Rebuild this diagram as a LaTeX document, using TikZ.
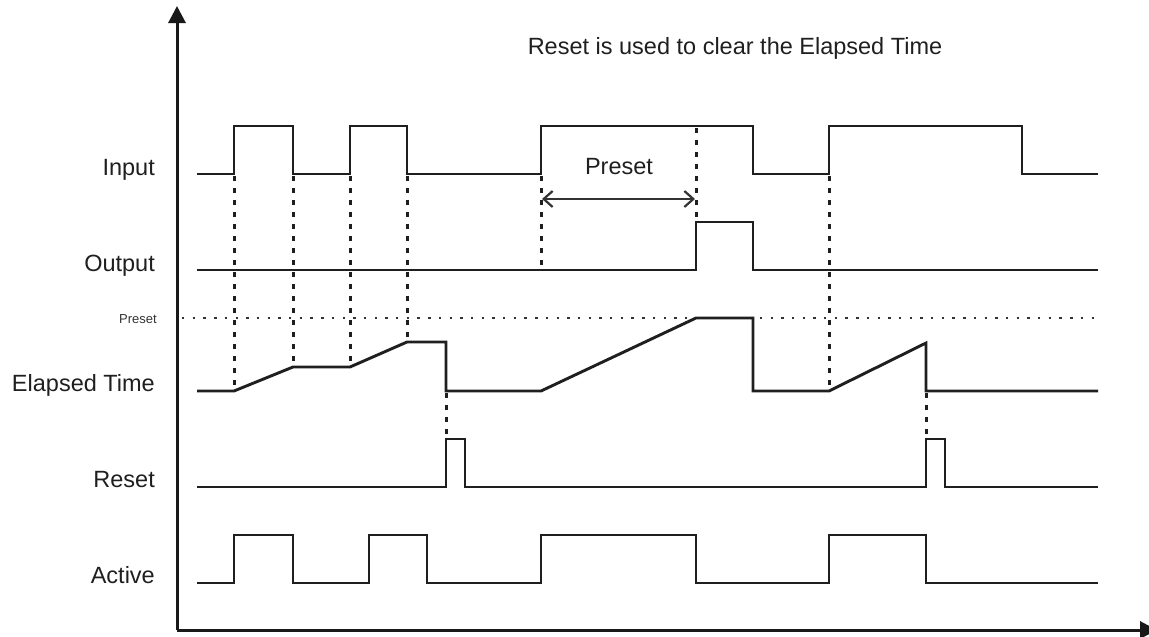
\documentclass[tikz,border=0pt]{standalone}
\usepackage{fontspec}
\setmainfont{Liberation Sans}
\usetikzlibrary{arrows.meta}
\begin{document}
\begin{tikzpicture}[x=1pt,y=-1pt,
  wave/.style={line width=2.9pt,line join=miter,color=black!88},
  axis/.style={line width=3pt,color=black!90,-{Triangle[length=17pt,width=17pt]}},
  vdash/.style={line width=3pt,color=black!88,dash pattern=on 5pt off 7pt},
  pdot/.style={line width=2.8pt,color=black!80,dash pattern=on 2.4pt off 8.3pt},
  sig/.style={font=\fontsize{23.5}{28}\selectfont,anchor=base east,text=black!88,inner sep=0pt},
  big/.style={font=\fontsize{23.5}{28}\selectfont,text=black!88,inner sep=0pt},
  small/.style={font=\fontsize{13}{15}\selectfont,text=black!80,inner sep=0pt}]
\useasboundingbox (0,0) rectangle (1149,637);
% axes
\coordinate (O) at (177,630);
\coordinate (ytop) at (177,6);
\coordinate (xend) at (1157,630);
\draw[axis] (O) -- (ytop);
\draw[axis] (O) -- (xend);
% labels
\node[sig] (lin) at (155,175) {Input};
\node[sig] (lout) at (155,271) {Output};
\node[sig] (let) at (155,391) {Elapsed Time};
\node[sig] (lres) at (155,487) {Reset};
\node[sig] (lact) at (155,583) {Active};
\node[small,anchor=east] (lpre) at (157,319) {Preset};
\node[big] (title) at (735,48) {Reset is used to clear the Elapsed Time};
\node[big] (ptxt) at (619,167) {Preset};
% preset dotted level
\draw[pdot] (182,318) -- (1098,318);
% vertical dashed guides
\draw[vdash] (234,176) -- (234,389);
\draw[vdash] (293,176) -- (293,365);
\draw[vdash] (350,176) -- (350,365);
\draw[vdash] (407,176) -- (407,340);
\draw[vdash] (541,176) -- (541,268);
\draw[vdash] (696,128) -- (696,220);
\draw[vdash] (829,176) -- (829,389);
\draw[vdash] (446,393) -- (446,437);
\draw[vdash] (926,393) -- (926,437);
% preset arrow
\coordinate (pa) at (542,199);
\coordinate (pb) at (695,199);
\draw[line width=1.4pt,color=black!80,{Straight Barb[length=9pt,width=16pt,line width=2.2pt]}-{Straight Barb[length=9pt,width=16pt,line width=2.2pt]}] (pa) -- (pb);
% Input
\draw[wave] (197,174) -- (234,174) -- (234,126) -- (293,126) -- (293,174) -- (350,174) -- (350,126) -- (407,126) -- (407,174) -- (541,174) -- (541,126) -- (753,126) -- (753,174) -- (829,174) -- (829,126) -- (1022,126) -- (1022,174) -- (1098,174);
% Output
\draw[wave] (197,270) -- (696,270) -- (696,222) -- (753,222) -- (753,270) -- (1098,270);
% Elapsed time
\draw[wave] (197,391) -- (234,391) -- (293,367) -- (350,367) -- (407,342) -- (446,342) -- (446,391) -- (541,391) -- (696,318) -- (753,318) -- (753,391) -- (829,391) -- (926,343) -- (926,391) -- (1098,391);
% Reset
\draw[wave] (197,487) -- (446,487) -- (446,439) -- (465,439) -- (465,487) -- (926,487) -- (926,439) -- (945,439) -- (945,487) -- (1098,487);
% Active
\draw[wave] (197,583) -- (234,583) -- (234,535) -- (293,535) -- (293,583) -- (369,583) -- (369,535) -- (427,535) -- (427,583) -- (541,583) -- (541,535) -- (696,535) -- (696,583) -- (829,583) -- (829,535) -- (926,535) -- (926,583) -- (1098,583);
\end{tikzpicture}
\end{document}
